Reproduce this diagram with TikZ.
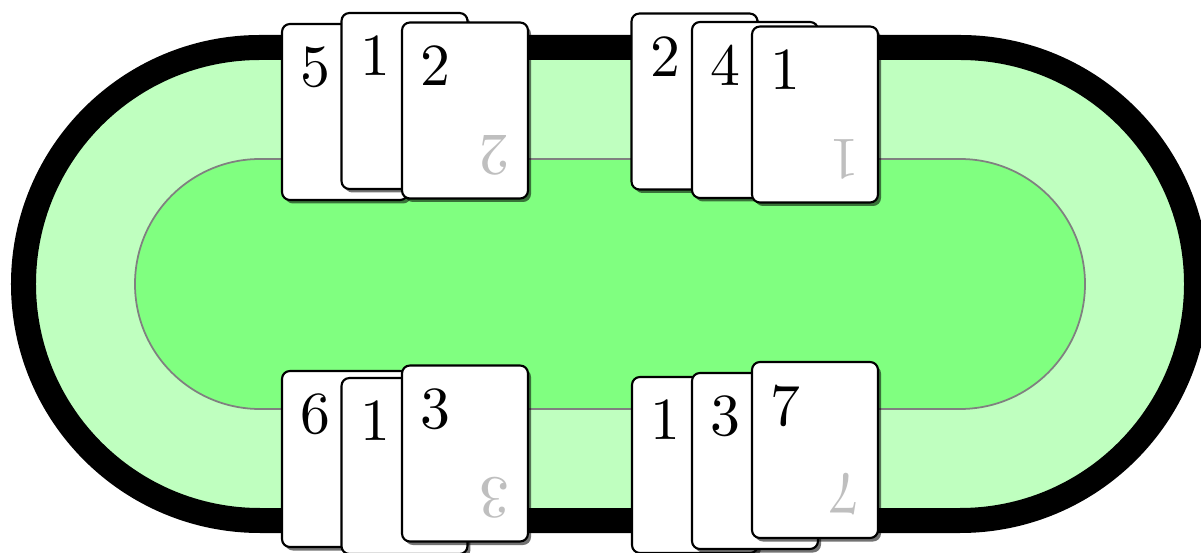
\documentclass[tikz,border=0pt]{standalone}
\usepackage{xcolor}
\usepackage{tikz}
\usetikzlibrary{shadows}

\begin{document}
\begin{tikzpicture}
  \tikzset{
    cardnode/.style={rectangle, rounded corners=4.5pt, draw=black, line width=1.2pt,
                     fill=white, minimum width=2.52cm, minimum height=3.52cm,
                     drop shadow={shadow xshift=0.06cm, shadow yshift=-0.07cm,
                                  fill=black, opacity=0.55}},
    numnode/.style={scale=3.4, transform shape, inner xsep=0.11cm, inner ysep=0.135cm},
    flipnode/.style={numnode, text=black!25, rotate=180}
  }
  \useasboundingbox (-12.2,-5.38) rectangle (11.82,5.68);
  % Table rim and felt
  \draw[line width=0.5cm, fill=green!25] (-7,4.73) -- (7,4.73)
    arc[start angle=90, end angle=-90, radius=4.73] -- (-7,-4.73)
    arc[start angle=270, end angle=90, radius=4.73] -- cycle;
  \draw[gray, line width=1pt, fill=green!50] (-7,2.5) -- (7,2.5)
    arc[start angle=90, end angle=-90, radius=2.5] -- (-7,-2.5)
    arc[start angle=270, end angle=90, radius=2.5] -- cycle;
  % Hands: name/x/y/value
  \foreach \n/\x/\y/\v in {tl1/-5.30/3.44/5, tl2/-4.11/3.66/1, tl3/-2.90/3.47/2,
                           tr1/1.69/3.65/2,   tr2/2.90/3.48/4,   tr3/4.10/3.39/1,
                           bl1/-5.30/-3.50/6, bl2/-4.11/-3.64/1, bl3/-2.90/-3.39/3,
                           br1/1.70/-3.62/1,  br2/2.90/-3.54/3,  br3/4.10/-3.32/7}{
    \node[cardnode] (\n) at (\x,\y) {};
    \node[numnode, anchor=north west] (\n-t) at (\n.north west) {\v};
    \node[flipnode, anchor=north west] (\n-b) at (\n.south east) {\v};
  }
\end{tikzpicture}
\end{document}
